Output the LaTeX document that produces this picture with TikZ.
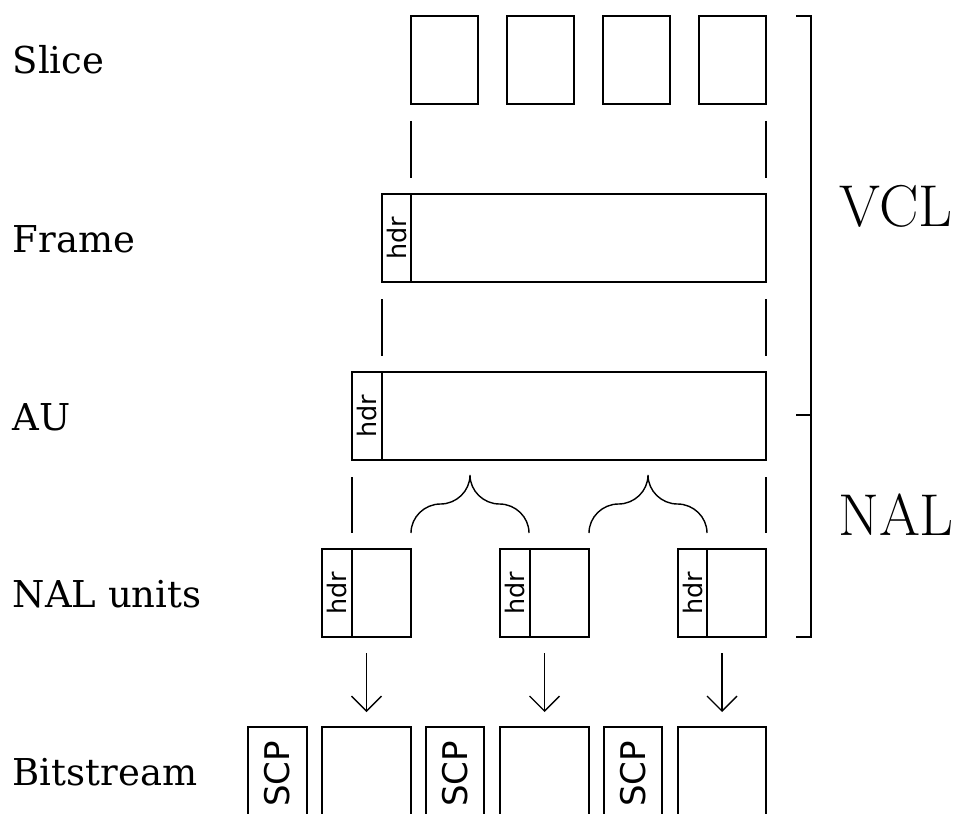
\documentclass[tikz,border=0pt]{standalone}
\usepackage{fontspec}
\newfontfamily\lserif{DejaVu Serif}
\newfontfamily\lsans{DejaVu Sans}
\usetikzlibrary{arrows.meta,calc}
\newcommand\nalbrace[1]{%
  \draw (#1) ++(0,-16) .. controls +(0,-16) and +(-16,0) .. ++(29.5,-29)
    .. controls +(16,0) and +(0,16) .. ++(29.5,-29)
    .. controls +(0,16) and +(-16,0) .. ++(29.5,29)
    .. controls +(16,0) and +(0,-16) .. ++(29.5,29);}
\begin{document}
\begin{tikzpicture}[x=1pt,y=-1pt,line width=1.4pt,
  box/.style={draw,inner sep=0pt,outer sep=0pt,anchor=north west,minimum height=88pt},
  lbl/.style={anchor=base west,inner sep=0pt,font=\lserif\fontsize{37}{44}\selectfont},
  big/.style={inner sep=0pt,font=\fontsize{59}{70}\selectfont},
  hdrtxt/.style={rotate=90,inner sep=0pt,font=\lsans\fontsize{25.5}{30}\selectfont},
  scptxt/.style={rotate=90,inner sep=0pt,font=\lsans\fontsize{34}{40}\selectfont},
  span/.style={shorten <=17pt,shorten >=16pt},
  arr/.style={-{Straight Barb[length=15pt,width=30pt,line width=1.4pt]},shorten <=16pt,shorten >=15pt}]
\useasboundingbox (0,0) rectangle (960,813);
\clip (0,0) rectangle (960,813);
% labels
\node[lbl] (lslice) at (12,74) {Slice};
\node[lbl] (lframe) at (12,252) {Frame};
\node[lbl] (lau) at (12,430) {AU};
\node[lbl] (lnal) at (12,607) {NAL units};
\node[lbl] (lbit) at (12,785) {Bitstream};
% slices
\node[box,minimum width=67pt] (s1) at (411,16) {};
\node[box,minimum width=67pt] (s2) at (507,16) {};
\node[box,minimum width=67pt] (s3) at (603,16) {};
\node[box,minimum width=67pt] (s4) at (699,16) {};
% frame
\node[box,minimum width=29pt] (fh) at (382,194) {};
\node[box,minimum width=355pt] (f) at (411,194) {};
\node[hdrtxt] (fht) at (fh.center) {hdr};
% AU
\node[box,minimum width=30pt] (ah) at (352,372) {};
\node[box,minimum width=384pt] (a) at (382,372) {};
\node[hdrtxt] (aht) at (ah.center) {hdr};
% NAL units
\node[box,minimum width=30pt] (nh1) at (322,549) {};
\node[box,minimum width=59pt] (n1) at (352,549) {};
\node[box,minimum width=30pt] (nh2) at (500,549) {};
\node[box,minimum width=59pt] (n2) at (530,549) {};
\node[box,minimum width=29pt] (nh3) at (678,549) {};
\node[box,minimum width=59pt] (n3) at (707,549) {};
\node[hdrtxt] (nht1) at (nh1.center) {hdr};
\node[hdrtxt] (nht2) at (nh2.center) {hdr};
\node[hdrtxt] (nht3) at (nh3.center) {hdr};
% bitstream
\node[box,minimum width=59pt] (c1) at (248,727) {};
\node[box,minimum width=89pt] (b1) at (322,727) {};
\node[box,minimum width=58pt] (c2) at (426,727) {};
\node[box,minimum width=89pt] (b2) at (500,727) {};
\node[box,minimum width=58pt] (c3) at (604,727) {};
\node[box,minimum width=88pt] (b3) at (678,727) {};
\node[scptxt] (ct1) at ($(c1.center)+(0,3)$) {SCP};
\node[scptxt] (ct2) at ($(c2.center)+(0,3)$) {SCP};
\node[scptxt] (ct3) at ($(c3.center)+(0,3)$) {SCP};
% span lines
\draw[span] (s1.south west) -- (f.north west);
\draw[span] (s4.south east) -- (f.north east);
\draw[span] (fh.south west) -- (a.north west);
\draw[span] (f.south east) -- (a.north east);
\draw[span] (ah.south west) -- (n1.north west);
\draw[span] (a.south east) -- (n3.north east);
% braces
\nalbrace{n1.north east}
\nalbrace{n2.north east}
% arrows
\draw[arr] (b1.north |- n1.south) -- (b1.north);
\draw[arr] (b2.north |- n2.south) -- (b2.north);
\draw[arr] (b3.north |- n3.south) -- (b3.north);
% layer bracket
\coordinate (bt) at (811,16);
\coordinate (bm) at (811,415);
\coordinate (bb) at (811,637);
\draw (bt) ++(-15,0) -- (bt) -- (bb) -- ++(-15,0);
\draw (bm) -- ++(-15,0);
\node[big] (vcl) at (896,206) {VCL};
\node[big] (nal) at (896,515) {NAL};
\end{tikzpicture}
\end{document}
